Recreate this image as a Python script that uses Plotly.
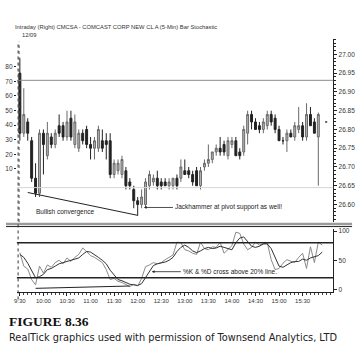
import plotly.graph_objects as go

W, H = 362, 351

# ---- data ----
bars = list(range(77))
opens = [26.95,26.79,26.82,26.77,26.67,26.63,26.79,26.73,26.78,26.76,26.81,26.81,26.78,26.83,26.76,26.75,26.79,26.80,26.76,26.75,
         26.75,26.77,26.77,26.77,26.68,26.69,26.68,26.69,26.66,26.64,26.61,26.60,26.60,26.65,26.66,26.67,26.66,26.66,26.65,26.65,
         26.67,26.67,26.69,26.69,26.68,26.69,26.65,26.70,26.71,26.72,26.74,26.75,26.76,26.73,26.76,26.77,26.74,26.74,26.79,26.84,
         26.82,26.81,26.80,26.81,26.84,26.83,26.80,26.77,26.77,26.79,26.78,26.80,26.81,26.78,26.84,26.82,26.78]
highs = [26.99,26.91,26.83,26.78,26.71,26.80,26.80,26.82,26.79,26.80,26.84,26.82,26.85,26.85,26.84,26.80,26.80,26.81,26.78,26.78,
         26.81,26.80,26.79,26.79,26.72,26.72,26.73,26.70,26.67,26.65,26.62,26.64,26.67,26.69,26.68,26.69,26.67,26.67,26.67,26.67,
         26.68,26.72,26.72,26.70,26.69,26.70,26.70,26.72,26.76,26.74,26.76,26.78,26.77,26.78,26.78,26.78,26.75,26.81,26.85,26.85,
         26.83,26.82,26.83,26.85,26.85,26.84,26.81,26.78,26.80,26.80,26.82,26.86,26.82,26.87,26.86,26.83,26.845]
lows = [26.77,26.78,26.77,26.66,26.62,26.62,26.68,26.72,26.75,26.75,26.78,26.77,26.77,26.77,26.75,26.74,26.76,26.75,26.72,26.72,
        26.74,26.74,26.72,26.67,26.67,26.68,26.67,26.64,26.64,26.59,26.57,26.59,26.59,26.64,26.65,26.64,26.64,26.65,26.64,26.64,
        26.64,26.66,26.68,26.67,26.65,26.65,26.64,26.69,26.70,26.71,26.73,26.73,26.73,26.72,26.75,26.73,26.72,26.73,26.76,26.80,
        26.80,26.79,26.79,26.80,26.81,26.79,26.77,26.76,26.74,26.78,26.77,26.79,26.77,26.77,26.81,26.79,26.65]
closes = [26.79,26.84,26.79,26.67,26.63,26.79,26.76,26.79,26.76,26.79,26.79,26.78,26.82,26.78,26.82,26.79,26.77,26.76,26.75,26.77,
          26.80,26.75,26.76,26.68,26.71,26.71,26.72,26.65,26.65,26.61,26.60,26.62,26.66,26.68,26.67,26.65,26.65,26.65,26.66,26.67,
          26.65,26.70,26.68,26.68,26.66,26.65,26.69,26.71,26.72,26.74,26.75,26.74,26.74,26.77,26.77,26.73,26.73,26.80,26.84,26.82,
          26.80,26.80,26.82,26.84,26.82,26.80,26.77,26.77,26.79,26.78,26.81,26.81,26.78,26.84,26.81,26.79,26.84]
last_bar, last_price = 78, 26.82

pct_k = [63,40,35,17,8,40,28,42,38,46,50,44,54,48,55,60,71,65,58,55,50,46,34,17,19,14,12,8,5,9,
         6,19,39,42,46,44,46,51,55,59,81,80,68,66,62,60,81,70,68,73,72,81,62,68,75,98,96,78,68,72,
         81,76,78,80,51,34,36,45,51,48,46,55,62,36,73,46,81,76]
pct_d = [60,55,45,32,20,22,26,34,36,40,44,46,48,49,52,54,60,65,64,60,55,50,44,33,24,17,15,12,9,8,
         7,10,20,32,41,44,45,47,50,55,65,72,76,72,66,63,66,70,72,70,71,74,72,70,68,80,88,90,82,74,
         72,74,78,78,70,55,40,38,42,46,48,48,52,50,54,56,58,64]
stoch_bars = list(range(78))

tick_bars = [0,6,12,18,24,30,36,42,48,54,60,66,72]
tick_labels = ["9:30","10:00","10:30","11:00","11:30","12:00","12:30","13:00","13:30","14:00","14:30","15:00","15:30"]
price_ticks = [26.60,26.65,26.70,26.75,26.80,26.85,26.90,26.95,27.00]
left_ticks = [10,20,30,40,50,60,70,80]
stoch_ticks = [0,50,100]
resistance, pivot = 26.931, 26.645
conv_price = ([2, 30], [26.632, 26.571])
conv_stoch = ([4, 28], [2, 6])

# ---- layout helpers ----
def px_x(p): return p / W
def px_y(p): return 1 - p / H

XR = [-0.76, 79.8]
FONT = "Liberation Sans"

fig = go.Figure()
fig.add_trace(go.Candlestick(
    x=bars, open=opens, high=highs, low=lows, close=closes,
    increasing=dict(fillcolor="#b4b4b4", line=dict(color="#6a6a6a", width=1)),
    decreasing=dict(fillcolor="#222222", line=dict(color="#222222", width=1)),
    whiskerwidth=0, xaxis="x", yaxis="y", showlegend=False, hoverinfo="skip"))
fig.add_trace(go.Candlestick(
    x=[last_bar], open=[last_price], high=[last_price], low=[last_price], close=[last_price],
    increasing=dict(fillcolor="#555", line=dict(color="#555", width=1)),
    decreasing=dict(fillcolor="#555", line=dict(color="#555", width=1)),
    xaxis="x", yaxis="y", showlegend=False, hoverinfo="skip"))
fig.add_trace(go.Scatter(x=[0], y=[50], mode="markers", marker=dict(opacity=0),
                         xaxis="x", yaxis="y3", showlegend=False, hoverinfo="skip"))
fig.add_trace(go.Scatter(x=stoch_bars, y=pct_k, mode="lines", line=dict(color="#8a8a8a", width=1),
                         xaxis="x2", yaxis="y2", showlegend=False, hoverinfo="skip"))
fig.add_trace(go.Scatter(x=stoch_bars, y=pct_d, mode="lines", line=dict(color="#333333", width=1),
                         xaxis="x2", yaxis="y2", showlegend=False, hoverinfo="skip"))
fig.add_trace(go.Scatter(x=conv_price[0], y=conv_price[1], mode="lines", line=dict(color="#222", width=1),
                         xaxis="x", yaxis="y", showlegend=False, hoverinfo="skip"))
fig.add_trace(go.Scatter(x=conv_stoch[0], y=conv_stoch[1], mode="lines", line=dict(color="#222", width=1),
                         xaxis="x2", yaxis="y2", showlegend=False, hoverinfo="skip"))

xdom = [px_x(14), px_x(333)]
tfont = dict(family=FONT, size=6.5, color="#333")

fig.update_layout(
    width=W, height=H, margin=dict(l=0, r=0, t=0, b=0),
    paper_bgcolor="white", plot_bgcolor="white",
    xaxis=dict(domain=xdom, range=XR, showticklabels=False, showgrid=False, zeroline=False,
               rangeslider=dict(visible=False), anchor="y", showline=False, ticks=""),
    yaxis=dict(domain=[px_y(222), px_y(37)], range=[26.553, 27.042], side="right", anchor="x",
               tickvals=price_ticks, ticktext=[f"{v:.2f}" for v in price_ticks],
               ticks="outside", ticklen=3, tickcolor="#222", showline=True, linecolor="#222", linewidth=1,
               showgrid=False, zeroline=False, tickfont=tfont,
               minor=dict(dtick=0.01, ticks="outside", ticklen=2, tickcolor="#222")),
    yaxis3=dict(overlaying="y", side="left", anchor="x", range=[-26.5, 99.3], tickvals=left_ticks,
                ticks="outside", ticklen=2, tickcolor="#222", showline=False, showgrid=False,
                zeroline=False, tickfont=tfont),
    xaxis2=dict(domain=xdom, range=XR, anchor="y2", tickvals=tick_bars, ticktext=tick_labels,
                ticks="outside", ticklen=3, tickcolor="#222", showline=True, linecolor="#222", linewidth=1,
                showgrid=False, zeroline=False, tickfont=dict(family=FONT, size=6, color="#333"),
                minor=dict(dtick=1, tick0=0, ticks="outside", ticklen=2, tickcolor="#444")),
    yaxis2=dict(domain=[px_y(292), px_y(229)], range=[-3.4, 103.4], side="right", anchor="x2",
                tickvals=stoch_ticks, ticks="outside", ticklen=3, tickcolor="#222",
                showline=True, linecolor="#222", linewidth=1, showgrid=False, zeroline=False,
                tickfont=tfont),
)

shapes = [
    dict(type="line", xref="x domain", yref="y", x0=0, x1=1, y0=resistance, y1=resistance,
         line=dict(color="#8c8c8c", width=1)),
    dict(type="line", xref="x domain", yref="y", x0=0, x1=1, y0=pivot, y1=pivot,
         line=dict(color="#d6d6d6", width=1)),
    dict(type="line", xref="x2 domain", yref="y2", x0=0, x1=1, y0=80, y1=80,
         line=dict(color="#222", width=1.5)),
    dict(type="line", xref="x2 domain", yref="y2", x0=0, x1=1, y0=20, y1=20,
         line=dict(color="#222", width=1.5)),
    dict(type="line", xref="paper", yref="paper", x0=px_x(3), x1=px_x(352), y0=px_y(224), y1=px_y(224),
         line=dict(color="#9a9a9a", width=2.5)),
    dict(type="line", xref="paper", yref="paper", x0=px_x(3), x1=px_x(352), y0=px_y(226.5), y1=px_y(226.5),
         line=dict(color="#222", width=1)),
    dict(type="line", xref="x", yref="paper", x0=-0.45, x1=-0.45, y0=px_y(300), y1=px_y(40),
         line=dict(color="#333", width=1, dash="dot")),
    dict(type="line", xref="x", yref="paper", x0=-0.2, x1=-0.2, y0=px_y(222), y1=px_y(40),
         line=dict(color="#555", width=1, dash="dot")),
]
fig.update_layout(shapes=shapes)

afont = dict(family=FONT, size=6.5, color="#222")
annots = [
    dict(text="Intraday (Right) CMCSA - COMCAST CORP NEW CL A (5-Min) Bar Stochastic",
         xref="paper", yref="paper", x=px_x(10), y=px_y(25), xanchor="left", yanchor="middle",
         showarrow=False, font=dict(family=FONT, size=5.8, color="#333")),
    dict(text="12/09", xref="paper", yref="paper", x=px_x(17), y=px_y(33), xanchor="left",
         yanchor="middle", showarrow=False, font=dict(family=FONT, size=5.8, color="#333")),
    dict(text="Bullish convergence", xref="paper", yref="paper", x=px_x(63), y=px_y(212),
         xanchor="center", yanchor="middle", showarrow=False, font=afont),
    dict(text="Jackhammer at pivot support as well!", xref="x", yref="y", x=31.6, y=26.592,
         ax=29, ay=0, xanchor="left", yanchor="middle", showarrow=True, arrowhead=2,
         arrowsize=0.7, arrowwidth=0.8, arrowcolor="#222", font=afont),
    dict(text="%K & %D cross above 20% line.", xref="x2", yref="y2", x=33.6, y=30.5,
         ax=29, ay=0, xanchor="left", yanchor="middle", showarrow=True, arrowhead=2,
         arrowsize=0.7, arrowwidth=0.8, arrowcolor="#222", font=afont),
    dict(text="<b>FIGURE 8.36</b>", xref="paper", yref="paper", x=px_x(4), y=px_y(322),
         xanchor="left", yanchor="middle", showarrow=False,
         font=dict(family="Liberation Serif", size=13.5, color="#111")),
    dict(text="RealTick graphics used with permission of Townsend Analytics, LTD",
         xref="paper", yref="paper", x=px_x(4), y=px_y(338), xanchor="left", yanchor="middle",
         showarrow=False, font=dict(family="DejaVu Sans", size=9.8, color="#222")),
]
fig.update_layout(annotations=annots)

fig.write_html("out.html")
